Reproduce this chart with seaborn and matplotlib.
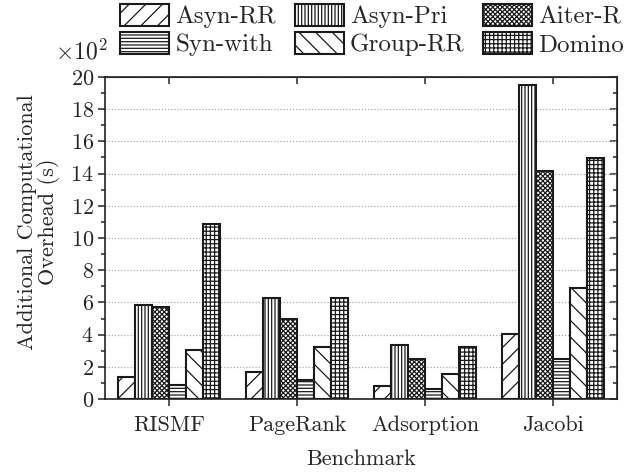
import numpy as np
import pandas as pd
import seaborn as sns
import matplotlib.pyplot as plt
from matplotlib.ticker import MultipleLocator

# values in units of 10^2 s
benchmarks = ['RISMF', 'PageRank', 'Adsorption', 'Jacobi']
methods = ['Asyn-RR', 'Asyn-Pri', 'Aiter-R', 'Syn-with', 'Group-RR', 'Domino']
asyn_rr = [1.35, 1.65, 0.80, 4.05]
asyn_pri = [5.85, 6.25, 3.35, 19.50]
aiter_r = [5.70, 5.00, 2.50, 14.15]
syn_with = [0.90, 1.15, 0.60, 2.50]
group_rr = [3.05, 3.25, 1.55, 6.90]
domino = [10.85, 6.25, 3.20, 14.95]

hatches = ['//', '|||||', 'xxxxxxx', '-----', '\\\\', '++++']

sns.set_style('ticks')
plt.rcParams['font.family'] = ['cmr10', 'DejaVu Serif']
plt.rcParams['mathtext.fontset'] = 'cm'
plt.rcParams['axes.formatter.use_mathtext'] = True
plt.rcParams['hatch.linewidth'] = 0.9
plt.rcParams['font.size'] = 16

df = pd.DataFrame({'Benchmark': benchmarks,
                   'Asyn-RR': asyn_rr,
                   'Asyn-Pri': asyn_pri,
                   'Aiter-R': aiter_r,
                   'Syn-with': syn_with,
                   'Group-RR': group_rr,
                   'Domino': domino})
long_df = df.melt(id_vars='Benchmark', var_name='method', value_name='overhead')

fig = plt.figure(figsize=(6.3, 4.72), dpi=100)
ax = fig.add_axes([105/630, 73/472, 512/630, 322/472])

sns.barplot(data=long_df, x='Benchmark', y='overhead', hue='method',
            hue_order=methods, order=benchmarks, width=0.8,
            palette=['white']*6, edgecolor='#1a1a1a',
            linewidth=1.5, legend=False, ax=ax)

for cont, h in zip(ax.containers, hatches):
    for p in cont.patches:
        p.set_hatch(h)
        p.set_facecolor('white')
        p.set_edgecolor('#1a1a1a')

ax.set_xlim(-0.5, 3.5)
ax.set_ylim(0, 20)
ax.yaxis.set_major_locator(MultipleLocator(2))
ax.yaxis.set_minor_locator(MultipleLocator(1))
ax.grid(axis='y', which='major', linestyle=(0, (1, 1.5)), color='#aaaaaa', linewidth=0.9)
ax.set_axisbelow(True)
for s in ax.spines.values():
    s.set_linewidth(1.2)
    s.set_color('#222222')
ax.tick_params(axis='both', which='major', direction='out', length=5, width=1.1,
               labelsize=16, pad=3)
ax.tick_params(axis='x', which='major', pad=7)
ax.tick_params(axis='y', which='minor', direction='out', length=3, width=1.1)

# mirrored ticks on top and right, pointing in
top = ax.secondary_xaxis('top')
top.set_xticks(range(len(benchmarks)))
top.tick_params(direction='in', length=5, width=1.1, labeltop=False)
right = ax.secondary_yaxis('right')
right.yaxis.set_major_locator(MultipleLocator(2))
right.yaxis.set_minor_locator(MultipleLocator(1))
right.tick_params(which='major', direction='in', length=5, width=1.1, labelright=False)
right.tick_params(which='minor', direction='in', length=3, width=1.1)

ax.set_xlabel('Benchmark', fontsize=16, labelpad=10)
ax.set_ylabel('Additional Computational\nOverhead (s)', fontsize=16, linespacing=1.0)
ax.yaxis.set_label_coords(-0.088, 0.55)

fig.text(108/630, 1 - 52/472, r'$\times 10^2$', fontsize=17, va='center', ha='right')

# row-major legend order for 3 columns x 2 rows
order = [0, 3, 1, 4, 2, 5]
ax.legend([ax.containers[i] for i in order], [methods[i] for i in order],
          ncol=3, loc='upper right',
          bbox_to_anchor=(624/630, 1 - 4/472), bbox_transform=fig.transFigure,
          frameon=False, fontsize=18, handlelength=1.95, handleheight=0.95,
          columnspacing=0.75, handletextpad=0.25, labelspacing=0.15,
          borderaxespad=0.0, borderpad=0.0)

fig.savefig('out.png', dpi=100)
